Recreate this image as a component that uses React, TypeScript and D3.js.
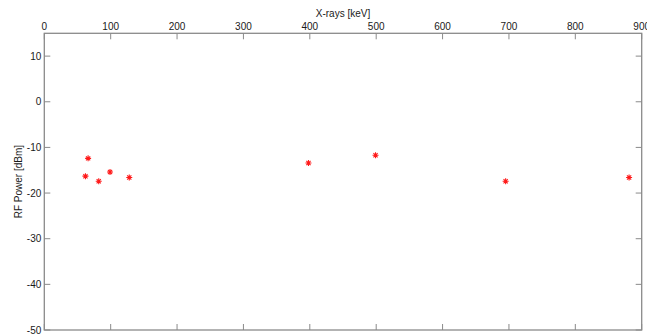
import React, { useEffect, useRef } from 'react';
import * as d3 from 'd3';

const xrayKeV = [62, 66, 82, 99, 128, 398, 499, 695, 881];
const rfPowerDbm = [-16.3, -12.4, -17.4, -15.4, -16.6, -13.4, -11.7, -17.4, -16.6];
const xTicks = [0, 100, 200, 300, 400, 500, 600, 700, 800, 900];
const yTicks = [10, 0, -10, -20, -30, -40, -50];

export default function App() {
  const svgRef = useRef<SVGSVGElement>(null);
  const W = 647, H = 334;
  const L = 44.3, R = 641.7, T = 33.3, B = 330;

  useEffect(() => {
    const svg = d3.select(svgRef.current);
    svg.selectAll('*').remove();

    const x = d3.scaleLinear().domain([0, 900]).range([L, R]);
    const y = d3.scaleLinear().domain([-50, 15]).range([B, T]);
    const axisColor = '#8a8a8a';
    const font = 'Arial, "Liberation Sans", sans-serif';

    // Box
    svg.append('rect').attr('x', L).attr('y', T).attr('width', R - L).attr('height', B - T)
      .attr('fill', 'none').attr('stroke', axisColor).attr('stroke-width', 1.3);

    // Inward ticks on all four sides
    const tl = 6;
    for (const t of xTicks) {
      svg.append('line').attr('x1', x(t)).attr('x2', x(t)).attr('y1', T).attr('y2', T + tl)
        .attr('stroke', axisColor).attr('stroke-width', 1);
      svg.append('line').attr('x1', x(t)).attr('x2', x(t)).attr('y1', B).attr('y2', B - tl)
        .attr('stroke', axisColor).attr('stroke-width', 1);
      svg.append('text').attr('x', x(t)).attr('y', T - 3).attr('text-anchor', 'middle')
        .attr('font-family', font).attr('font-size', 10).attr('fill', '#1a1a1a').text(t);
    }
    for (const t of yTicks) {
      svg.append('line').attr('x1', L).attr('x2', L + tl).attr('y1', y(t)).attr('y2', y(t))
        .attr('stroke', axisColor).attr('stroke-width', 1);
      svg.append('line').attr('x1', R).attr('x2', R - tl).attr('y1', y(t)).attr('y2', y(t))
        .attr('stroke', axisColor).attr('stroke-width', 1);
      svg.append('text').attr('x', L - 3).attr('y', y(t) + 3.5).attr('text-anchor', 'end')
        .attr('font-family', font).attr('font-size', 10).attr('fill', '#1a1a1a').text(t);
    }

    // Axis labels
    svg.append('text').attr('x', (L + R) / 2).attr('y', 17).attr('text-anchor', 'middle')
      .attr('font-family', font).attr('font-size', 10).attr('fill', '#1a1a1a').text('X-rays [keV]');
    svg.append('text').attr('transform', `translate(22, ${(T + B) / 2}) rotate(-90)`)
      .attr('text-anchor', 'middle').attr('font-family', font).attr('font-size', 10)
      .attr('fill', '#1a1a1a').text('RF Power [dBm]');

    // Data markers: MATLAB-style '*' (plus + x)
    const r = 3;
    const star = `M${-r},0L${r},0M0,${-r}L0,${r}` +
      `M${-r * 0.7},${-r * 0.7}L${r * 0.7},${r * 0.7}M${-r * 0.7},${r * 0.7}L${r * 0.7},${-r * 0.7}`;
    xrayKeV.forEach((v, i) => {
      svg.append('path').attr('d', star).attr('transform', `translate(${x(v)},${y(rfPowerDbm[i])})`)
        .attr('fill', 'none').attr('stroke', '#ff1a1a').attr('stroke-width', 1.1);
    });
  }, []);

  return (
    <svg ref={svgRef} width={W} height={H}
      style={{ position: 'absolute', left: 0, top: 0, background: '#fff' }} />
  );
}
